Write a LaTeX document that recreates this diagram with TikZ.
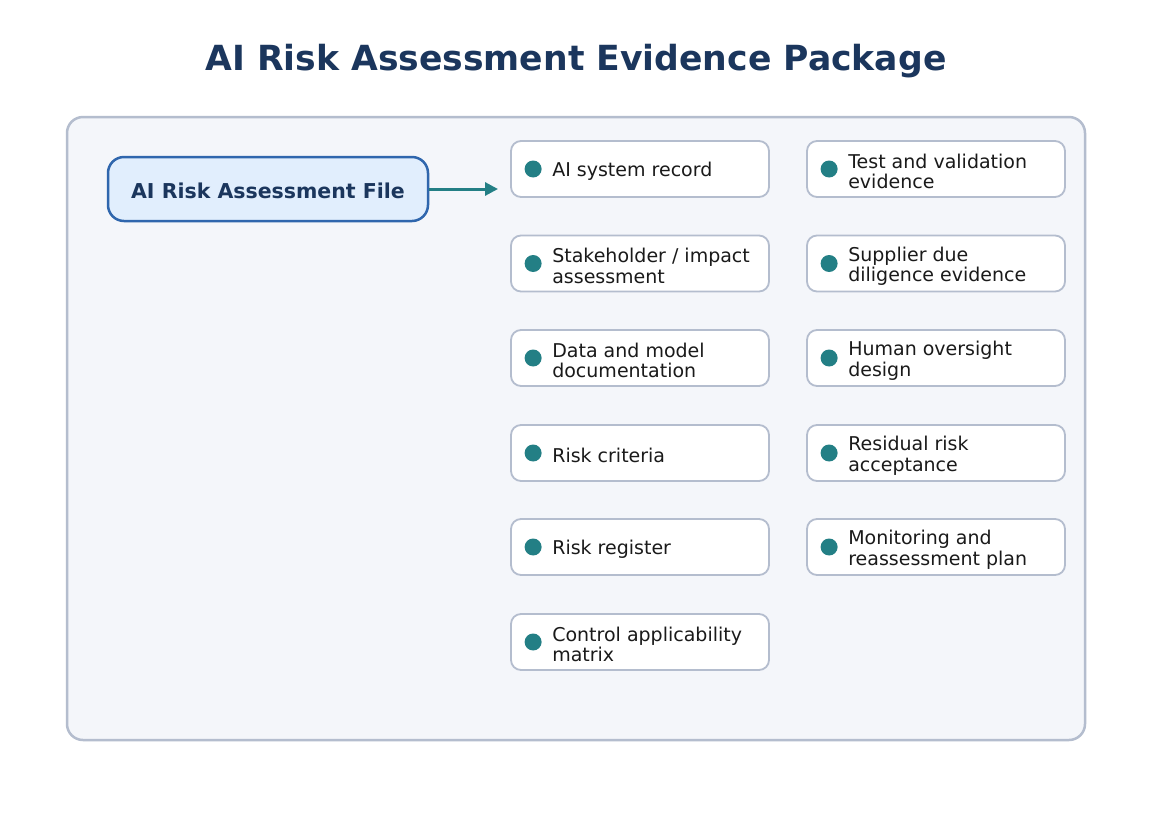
\documentclass[tikz,border=0pt]{standalone}
\usepackage{fontspec}
\setmainfont{DejaVu Sans}
\usetikzlibrary{arrows.meta,positioning}
\definecolor{navy}{HTML}{1B365D}
\definecolor{panelfill}{HTML}{F4F6FA}
\definecolor{panelline}{HTML}{B4BDCE}
\definecolor{mainfill}{HTML}{E1EEFD}
\definecolor{mainline}{HTML}{2F66AD}
\definecolor{teal}{HTML}{237F85}
\definecolor{txt}{HTML}{1A1A1A}
\tikzset{
  panel/.style={draw=panelline, line width=2.5pt, fill=panelfill, rounded corners=16pt},
  mainbox/.style={draw=mainline, line width=2.5pt, fill=mainfill, rounded corners=16pt,
    minimum width=320pt, minimum height=64pt, inner sep=0pt, font=\fontsize{20.5}{24}\selectfont\bfseries, text=navy},
  itembox/.style={draw=panelline, line width=1.8pt, fill=white, rounded corners=10pt,
    minimum width=258pt, minimum height=56pt, inner sep=0pt},
  dot/.style={circle, fill=teal, minimum size=17pt, inner sep=0pt},
  itemtext/.style={anchor=west, inner sep=0pt, align=left, text=txt,
    font=\fontsize{19}{20.5}\selectfont},
  link/.style={draw=teal, line width=3pt, -{Triangle[length=13pt,width=13pt]}},
}
\begin{document}
\begin{tikzpicture}[x=1pt,y=-1pt]
\useasboundingbox (0,0) rectangle (1152,823);
\fill[white] (0,0) rectangle (1152,823);
\node[font=\fontsize{34.6}{40}\selectfont\bfseries, text=navy] (title) at (576,61) {AI Risk Assessment Evidence Package};
\draw[panel] (67,117) rectangle (1085,740);
\node[mainbox] (main) at (268,189) {};
\node[font=\fontsize{20.5}{24}\selectfont\bfseries, text=navy, inner sep=0pt] (maintext) at (268,190.5) {AI Risk Assessment File};
\coordinate (arrowend) at (498,189);
\draw[link] (main.east) -- (arrowend);
\foreach \name/\cx/\cy/\t in {
  a1/640/169/{AI system record},
  a2/640/263.5/{Stakeholder / impact\\assessment},
  a3/640/358/{Data and model\\documentation},
  a4/640/453/{Risk criteria},
  a5/640/547/{Risk register},
  a6/640/642/{Control applicability\\matrix},
  b1/936/169/{Test and validation\\evidence},
  b2/936/263.5/{Supplier due\\diligence evidence},
  b3/936/358/{Human oversight\\design},
  b4/936/453/{Residual risk\\acceptance},
  b5/936/547/{Monitoring and\\reassessment plan}} {
  \node[itembox] (\name) at (\cx,\cy) {};
  \node[dot] (\name dot) at ([xshift=23pt]\name.west) {};
  \node[itemtext] (\name text) at ([xshift=42pt,yshift=-2.5pt]\name.west) {\t};
}
\end{tikzpicture}
\end{document}
